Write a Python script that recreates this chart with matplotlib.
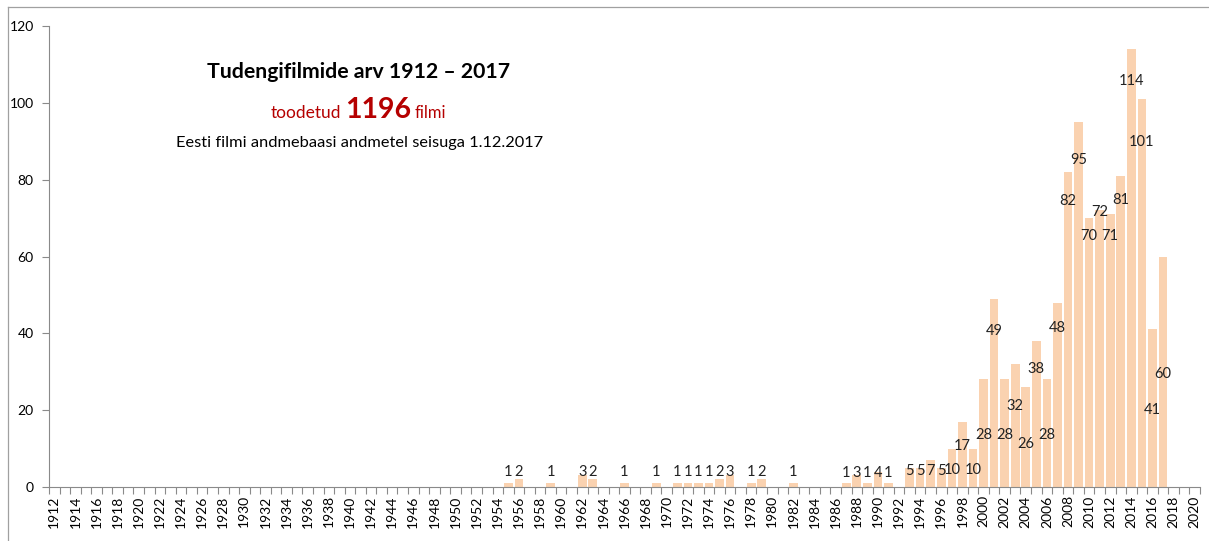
import numpy as np
import matplotlib.pyplot as plt
from matplotlib.lines import Line2D

plt.rcParams['font.family'] = ['Lato', 'DejaVu Sans']

# aastad, kus filme tehti (teistel aastatel 0)
years = [1955, 1956, 1959, 1962, 1963, 1966, 1969, 1971, 1972, 1973, 1974, 1975, 1976,
         1978, 1979, 1982, 1987, 1988, 1989, 1990, 1991, 1993, 1994, 1995, 1996,
         1997, 1998, 1999, 2000, 2001, 2002, 2003, 2004, 2005, 2006, 2007, 2008,
         2009, 2010, 2011, 2012, 2013, 2014, 2015, 2016, 2017]
films = [1, 2, 1, 3, 2, 1, 1, 1, 1, 1, 1, 2, 3,
         1, 2, 1, 1, 3, 1, 4, 1, 5, 5, 7, 5,
         10, 17, 10, 28, 49, 28, 32, 26, 38, 28, 48, 82,
         95, 70, 72, 71, 81, 114, 101, 41, 60]

# sildi kõrgus (andmeühikutes), nagu originaalis käsitsi paigutatud
label_y = [3.9] * 16 + [3.7] * 5 + [4.2] * 4 + \
          [4.4, 10.8, 4.4, 13.6, 40.5, 13.6, 21, 11.2, 30.8, 13.6, 41.5, 74.5,
           85, 65.4, 71.6, 65.4, 74.8, 105.8, 89.7, 20.1, 29.5]

first_year, last_year = 1912, 2020
bar_color = '#FAD2B0'
axis_color = '#8a8a8a'
W, H = 1209, 541

fig = plt.figure(figsize=(W / 100, H / 100), dpi=100)
ax = fig.add_axes([49 / W, 1 - 487 / H, (1200 - 49) / W, (487 - 26) / H])

ax.bar(years, films, width=0.82, color=bar_color, edgecolor='none', zorder=2)

for yr, v, ly in zip(years, films, label_y):
    ax.text(yr, ly, str(v), ha='center', va='center', fontsize=10.5, color='#222222', zorder=3)

ax.set_xlim(first_year - 0.5, last_year + 0.5)
ax.set_ylim(0, 120)
ax.set_yticks(range(0, 121, 20))

# x-telje kriipsud kategooriate vahel, sildid iga teise aasta kohal
ax.set_xticks(np.arange(first_year - 0.5, last_year + 1, 1))
ax.set_xticklabels([])
ax.set_xticks(range(first_year, last_year + 1, 2), minor=True)
ax.set_xticklabels([str(y) for y in range(first_year, last_year + 1, 2)], minor=True,
                   rotation=90, fontsize=10)
ax.tick_params(axis='x', which='major', length=5, width=0.8, color=axis_color)
ax.tick_params(axis='x', which='minor', length=0, pad=6)
ax.tick_params(axis='y', length=5, width=0.8, color=axis_color, labelsize=10, pad=6)

for side in ['top', 'right']:
    ax.spines[side].set_visible(False)
for side in ['left', 'bottom']:
    ax.spines[side].set_color(axis_color)
    ax.spines[side].set_linewidth(0.8)

# pealkiri ja alapealkiri
fig.text(359 / W, 1 - 72 / H, 'Tudengifilmide arv 1912 – 2017', ha='center', va='center',
         fontsize=15.3, fontweight='bold', color='black')
red = '#B50000'
base_y = 1 - 118 / H
fig.text(341 / W, base_y, 'toodetud', ha='right', va='baseline', fontsize=12.5, color=red)
fig.text(345 / W, base_y, '1196', ha='left', va='baseline', fontsize=20.5,
         fontweight='bold', color=red)
fig.text(415 / W, base_y, 'filmi', ha='left', va='baseline', fontsize=12, color=red)
fig.text(359.5 / W, 1 - 143 / H, 'Eesti filmi andmebaasi andmetel seisuga 1.12.2017',
         ha='center', va='center', fontsize=11.8, color='black')

# diagrammi raam
fig.add_artist(Line2D([8 / W, 1], [1 - 7 / H, 1 - 7 / H], color='#a0a0a0', lw=0.9))
fig.add_artist(Line2D([8 / W, 8 / W], [0, 1 - 7 / H], color='#a0a0a0', lw=0.9))

fig.savefig('out.png', dpi=100)
